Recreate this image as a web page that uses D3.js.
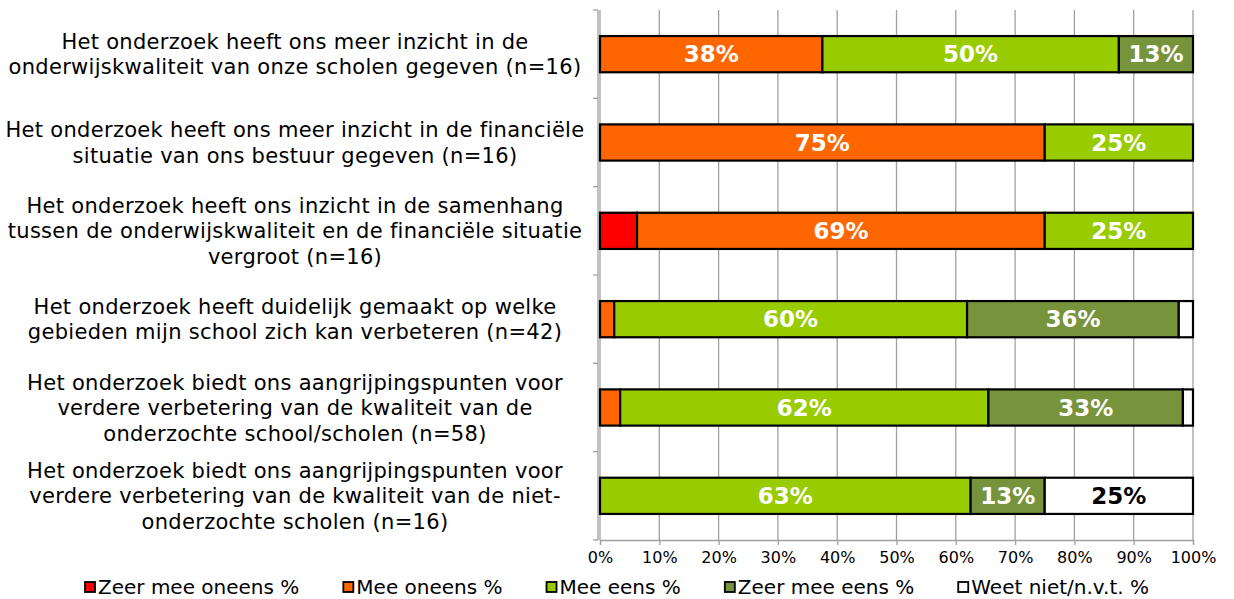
<!DOCTYPE html>
<html>
<head>
<meta charset="utf-8">
<script src="https://cdn.jsdelivr.net/npm/d3@7"></script>
<style>
  body { margin: 0; background: #fff; }
  text { font-family: Verdana, "DejaVu Sans", sans-serif; }
</style>
</head>
<body>
<svg id="chart" width="1234" height="599"></svg>
<script>
var categories = [
  'Het onderzoek heeft ons meer inzicht in de\nonderwijskwaliteit van onze scholen gegeven (n=16)',
  'Het onderzoek heeft ons meer inzicht in de financiële\nsituatie van ons bestuur gegeven (n=16)',
  'Het onderzoek heeft ons inzicht in de samenhang\ntussen de onderwijskwaliteit en de financiële situatie\nvergroot (n=16)',
  'Het onderzoek heeft duidelijk gemaakt op welke\ngebieden mijn school zich kan verbeteren (n=42)',
  'Het onderzoek biedt ons aangrijpingspunten voor\nverdere verbetering van de kwaliteit van de\nonderzochte school/scholen (n=58)',
  'Het onderzoek biedt ons aangrijpingspunten voor\nverdere verbetering van de kwaliteit van de niet-\nonderzochte scholen (n=16)'
]

var seriesNames = ['Zeer mee oneens %', 'Mee oneens %', 'Mee eens %', 'Zeer mee eens %', 'Weet niet/n.v.t. %']
var seriesColors = ['#ff0000', '#ff6600', '#99cc00', '#77933c', '#ffffff']

// share per category, in %
var zeerMeeOneens = [0, 0, 6.25, 0, 0, 0]
var meeOneens = [37.5, 75, 68.75, 2.4, 3.4, 0]
var meeEens = [50, 25, 25, 59.5, 62.1, 62.5]
var zeerMeeEens = [12.5, 0, 0, 35.7, 32.8, 12.5]
var weetNiet = [0, 0, 0, 2.4, 1.7, 25]

var xTicks = [0, 10, 20, 30, 40, 50, 60, 70, 80, 90, 100]

var seriesValues = [zeerMeeOneens, meeOneens, meeEens, zeerMeeEens, weetNiet]

function drawStackedBars () {
  var svg = d3.select('#chart')
  var width = +svg.attr('width')
  var height = +svg.attr('height')
  var margin = { top: 10, left: 600, bottom: 59, right: 41 }
  var chartWidth = width - margin.left - margin.right
  var chartHeight = height - margin.top - margin.bottom

  var rows = categories.map(function (c, i) {
    var row = { cat: c }
    seriesNames.forEach(function (s, j) { row[s] = seriesValues[j][i] })
    return row
  })

  var stacked = d3.stack().keys(seriesNames)(rows)

  var x = d3.scaleLinear().domain([0, 100]).range([0, chartWidth])
  var y = d3.scaleBand().domain(categories).range([0, chartHeight]).padding(0)
  var barH = y.bandwidth() * 0.41

  var g = svg.append('g')
    .attr('transform', 'translate(' + margin.left + ',' + margin.top + ')')

  // vertical gridlines
  g.selectAll('line.grid')
    .data(xTicks).enter().append('line')
    .attr('class', 'grid')
    .attr('x1', function (d) { return x(d) })
    .attr('x2', function (d) { return x(d) })
    .attr('y1', 0)
    .attr('y2', chartHeight)
    .attr('stroke', '#a0a0a0')
    .attr('stroke-width', 1.3)

  // x axis
  var gXaxis = g.append('g')
    .attr('transform', 'translate(0,' + chartHeight + ')')
    .call(d3.axisBottom(x).tickValues(xTicks).tickSize(5).tickFormat(function (t) { return t + '%' }))
  gXaxis.select('.domain').attr('stroke', '#a0a0a0').attr('stroke-width', 1.3)
  gXaxis.selectAll('.tick line').attr('stroke', '#a0a0a0').attr('stroke-width', 1.3)
  gXaxis.selectAll('.tick text')
    .attr('font-size', 16).attr('font-family', 'Verdana, "DejaVu Sans", sans-serif')
    .attr('fill', '#000').attr('dy', '0.95em')

  // y axis line with ticks at band edges
  var bandEdges = categories.map(function (c) { return y(c) }).concat([chartHeight])
  g.append('line')
    .attr('x1', -2).attr('x2', -2).attr('y1', 0).attr('y2', chartHeight)
    .attr('stroke', '#a0a0a0').attr('stroke-width', 1.3)
  g.selectAll('line.ytick')
    .data(bandEdges).enter().append('line')
    .attr('class', 'ytick')
    .attr('x1', -7).attr('x2', -2)
    .attr('y1', function (d) { return d }).attr('y2', function (d) { return d })
    .attr('stroke', '#a0a0a0').attr('stroke-width', 1.3)

  // bars
  var layers = g.selectAll('g.layer')
    .data(stacked).enter().append('g')
    .attr('class', 'layer')
    .attr('fill', function (d, i) { return seriesColors[i] })

  layers.selectAll('rect')
    .data(function (d) { return d.filter(function (p) { return p[1] - p[0] > 0 }) })
    .enter().append('rect')
    .attr('x', function (d) { return x(d[0]) })
    .attr('width', function (d) { return x(d[1]) - x(d[0]) })
    .attr('y', function (d) { return y(d.data.cat) + (y.bandwidth() - barH) / 2 })
    .attr('height', barH)
    .attr('stroke', '#000')
    .attr('stroke-width', 2.2)

  // value labels
  layers.selectAll('text')
    .data(function (d) { return d.filter(function (p) { return p[1] - p[0] >= 10 }) })
    .enter().append('text')
    .attr('x', function (d) { return (x(d[0]) + x(d[1])) / 2 })
    .attr('y', function (d) { return y(d.data.cat) + y.bandwidth() / 2 })
    .attr('dy', '0.36em')
    .attr('text-anchor', 'middle')
    .attr('font-size', 23)
    .attr('font-weight', 'bold')
    .attr('fill', function () { return d3.select(this.parentNode).datum().key === 'Weet niet/n.v.t. %' ? '#000' : '#fff' })
    .text(function (d) { return Math.round(d[1] - d[0]) + '%' })

  // category labels
  var lineH = 25.5
  var gLabels = svg.append('g')
  categories.forEach(function (c) {
    var lines = c.split('\n')
    var cy = margin.top + y(c) + y.bandwidth() / 2
    var t = gLabels.append('text')
      .attr('text-anchor', 'middle')
      .attr('font-size', 21)
      .attr('letter-spacing', 0.3)
      .attr('fill', '#000')
    lines.forEach(function (l, i) {
      t.append('tspan')
        .attr('x', 295)
        .attr('y', cy + (i - (lines.length - 1) / 2) * lineH)
        .attr('dy', '0.36em')
        .text(l)
    })
  })

  // legend
  var gLegend = svg.append('g').attr('transform', 'translate(85,587)')
  var lx = 0
  seriesNames.forEach(function (s, i) {
    gLegend.append('rect')
      .attr('x', lx).attr('y', -5).attr('width', 10).attr('height', 10)
      .attr('fill', seriesColors[i]).attr('stroke', '#000').attr('stroke-width', 1.8)
    var t = gLegend.append('text')
      .attr('x', lx + 13).attr('dy', '0.36em')
      .attr('font-size', 20)
      .text(s)
    lx += 13 + t.node().getComputedTextLength() + 44
  })
}

drawStackedBars()
</script>
</body>
</html>
